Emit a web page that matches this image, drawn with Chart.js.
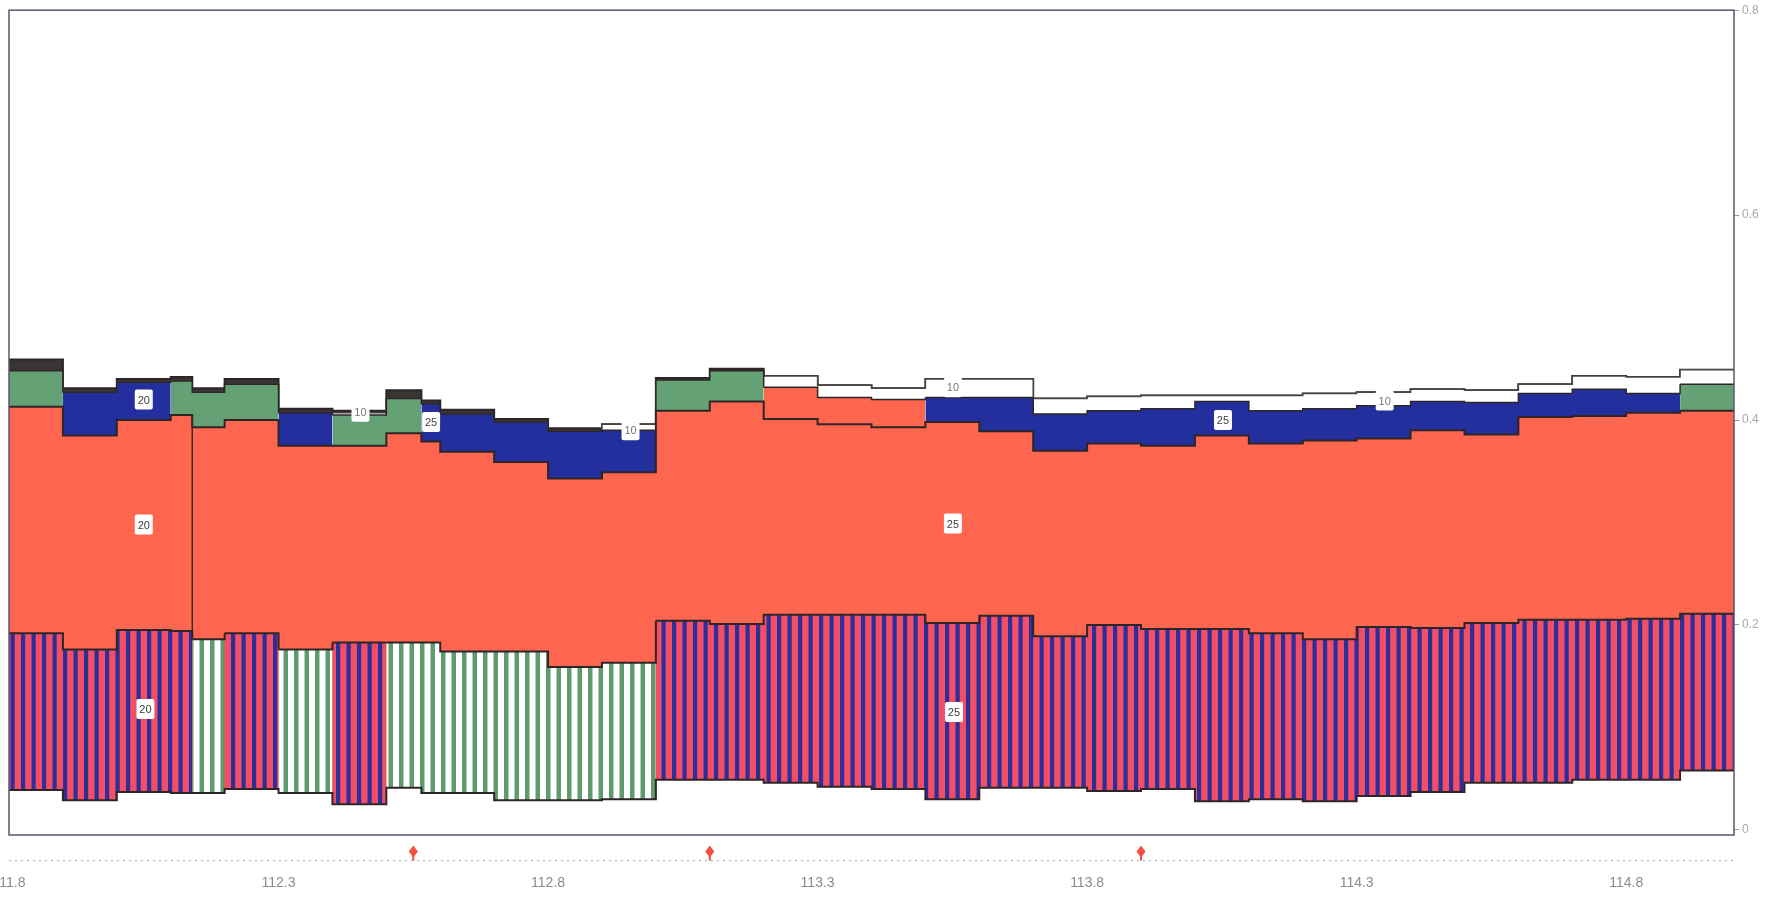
<!DOCTYPE html>
<html>
<head>
<meta charset="utf-8">
<script src="https://cdn.jsdelivr.net/npm/chart.js@4.4.0/dist/chart.umd.min.js"></script>
<style>
  html, body { margin: 0; padding: 0; background: #fff; }
</style>
</head>
<body>
<canvas id="chart" width="1766" height="897"></canvas>
<script>
'use strict';

// step edges along x (one value per boundary)
var stepEdges = [111.8, 111.9, 112.0, 112.1, 112.14, 112.2, 112.3, 112.4, 112.5, 112.565,
  112.6, 112.7, 112.8, 112.9, 113.0, 113.1, 113.2, 113.3, 113.4, 113.5, 113.6, 113.7,
  113.8, 113.9, 114.0, 114.1, 114.2, 114.3, 114.4, 114.5, 114.6, 114.7, 114.8, 114.9, 115.0];
var groupBreak = 112.14;

// layer boundaries, one value per step
var baseLevel = [0.039, 0.029, 0.037, 0.036, 0.036, 0.040, 0.036, 0.025, 0.041, 0.036, 0.036, 0.029, 0.029, 0.030,
  0.049, 0.049, 0.046, 0.042, 0.040, 0.030, 0.041, 0.041, 0.038, 0.040, 0.028, 0.030, 0.028, 0.033, 0.037, 0.046,
  0.046, 0.049, 0.049, 0.058];
var stripeTop = [0.192, 0.176, 0.195, 0.194, 0.186, 0.192, 0.176, 0.183, 0.183, 0.183, 0.174, 0.174, 0.159, 0.163,
  0.204, 0.201, 0.210, 0.210, 0.210, 0.202, 0.209, 0.189, 0.200, 0.196, 0.196, 0.192, 0.186, 0.198, 0.197, 0.202,
  0.205, 0.205, 0.206, 0.211];
var stripeKind = ['RB', 'RB', 'RB', 'RB', 'GW', 'RB', 'GW', 'RB', 'GW', 'GW', 'GW', 'GW', 'GW', 'GW',
  'RB', 'RB', 'RB', 'RB', 'RB', 'RB', 'RB', 'RB', 'RB', 'RB', 'RB', 'RB', 'RB', 'RB', 'RB', 'RB',
  'RB', 'RB', 'RB', 'RB'];
var redTop = [0.413, 0.385, 0.400, 0.405, 0.393, 0.400, 0.375, 0.375, 0.387, 0.379, 0.369, 0.359, 0.343, 0.349,
  0.409, 0.418, 0.401, 0.396, 0.393, 0.398, 0.389, 0.370, 0.377, 0.375, 0.385, 0.377, 0.380, 0.382, 0.390, 0.386,
  0.403, 0.404, 0.407, 0.409];
var midTop = [0.448, 0.427, 0.437, 0.438, 0.427, 0.435, 0.407, 0.405, 0.421, 0.416, 0.406, 0.398, 0.389, 0.390,
  0.439, 0.448, 0.432, 0.422, 0.420, 0.422, 0.422, 0.406, 0.409, 0.411, 0.418, 0.409, 0.411, 0.414, 0.418, 0.417,
  0.426, 0.430, 0.426, 0.435];
var midKind = ['G', 'B', 'B', 'G', 'G', 'G', 'B', 'G', 'G', 'B', 'B', 'B', 'B', 'B',
  'G', 'G', 'R', 'R', 'R', 'B', 'B', 'B', 'B', 'B', 'B', 'B', 'B', 'B', 'B', 'B',
  'B', 'B', 'B', 'G'];
var whiteTop = [0.448, 0.427, 0.437, 0.438, 0.427, 0.435, 0.407, 0.407, 0.421, 0.416, 0.406, 0.398, 0.389, 0.396,
  0.439, 0.448, 0.443, 0.434, 0.431, 0.440, 0.440, 0.421, 0.423, 0.424, 0.424, 0.424, 0.426, 0.427, 0.430, 0.429,
  0.435, 0.443, 0.442, 0.449];
var darkTop = [0.459, 0.431, 0.440, 0.442, 0.431, 0.440, 0.411, 0.409, 0.429, 0.419, 0.410, 0.401, 0.392, 0.396,
  0.441, 0.450, 0.443, 0.434, 0.431, 0.440, 0.440, 0.421, 0.423, 0.424, 0.424, 0.424, 0.426, 0.427, 0.430, 0.429,
  0.435, 0.443, 0.442, 0.449];

// contour labels
var labelText = ['20', '20', '20', '10', '25', '10', '10', '25', '25', '25', '10'];
var labelX = [112.05, 112.05, 112.053, 112.452, 112.583, 112.953, 113.551, 113.551, 113.553, 114.052, 114.352];
var labelY = [0.420, 0.298, 0.118, 0.408, 0.398, 0.390, 0.432, 0.299, 0.115, 0.400, 0.419];

// event markers under the plot
var markerX = [112.55, 113.1, 113.9];
var markerLevel = -0.021;
var trackLevel = -0.030;

var xTicks = [111.8, 112.3, 112.8, 113.3, 113.8, 114.3, 114.8];
var yTicks = [0, 0.2, 0.4, 0.6, 0.8];

// vertical stripe fills
function stripes(bg, fg, w) {
  var cv = document.createElement('canvas');
  cv.width = 21;
  cv.height = 4;
  var c = cv.getContext('2d');
  c.fillStyle = bg;
  c.fillRect(0, 0, 21, 4);
  c.fillStyle = fg;
  c.fillRect(0, 0, w, 4);
  c.fillRect(10.5, 0, w, 4);
  return c.createPattern(cv, 'repeat');
}
var ctx0 = document.getElementById('chart').getContext('2d');
var stripeFill = {
  RB: stripes('#f24f66', '#2d2f98', 4.2),
  GW: stripes('#ffffff', '#5e9c6e', 4.5)
};
var midFill = { B: '#232f9c', G: '#64a276', R: '#ff6650' };

function stepPoints(values) {
  var pts = values.map(function(v, i) { return { x: stepEdges[i], y: v }; });
  pts.push({ x: stepEdges[stepEdges.length - 1], y: values[values.length - 1] });
  return pts;
}

// every layer fills down to zero; lower layers are drawn later and cover the rest
function layer(label, values, color, border, width) {
  return {
    label: label,
    data: stepPoints(values),
    stepped: 'before',
    fill: 'origin',
    backgroundColor: color,
    borderColor: border,
    borderWidth: width,
    pointRadius: 0
  };
}

var dsBase = layer('base', baseLevel, '#ffffff', '#2e2626', 2);
var dsStripe = layer('striped', stripeTop, stripeFill.RB, '#2e2626', 2);
dsStripe.segment = { backgroundColor: function(c) { return stripeFill[stripeKind[c.p0DataIndex]]; } };
var dsRed = layer('red', redTop, '#ff6650', '#2e2626', 2);
var dsMid = layer('mid', midTop, midFill.B, '#2e2626', 1.5);
dsMid.segment = { backgroundColor: function(c) { return midFill[midKind[c.p0DataIndex]]; } };
var dsWhite = layer('white', whiteTop, '#ffffff', '#4a4444', 1.5);
var dsDark = layer('dark', darkTop, '#3a3434', '#2e2626', 2);

var overlay = {
  id: 'overlay',
  afterDatasetsDraw: function(chart) {
    var ctx = chart.ctx, xs = chart.scales.x, ys = chart.scales.y, a = chart.chartArea;
    ctx.save();
    // break between the two runs
    var gi = stepEdges.indexOf(groupBreak);
    var gx = xs.getPixelForValue(groupBreak);
    ctx.strokeStyle = '#3a2a2a';
    ctx.lineWidth = 1.5;
    ctx.beginPath();
    ctx.moveTo(gx, ys.getPixelForValue(redTop[gi - 1]));
    ctx.lineTo(gx, ys.getPixelForValue(stripeTop[gi - 1]));
    ctx.stroke();
    // frame
    ctx.strokeStyle = '#5b5570';
    ctx.lineWidth = 1.5;
    ctx.strokeRect(a.left, a.top, a.right - a.left, a.bottom - a.top);
    // markers under the frame
    var my = ys.getPixelForValue(markerLevel);
    var ty = ys.getPixelForValue(trackLevel);
    ctx.fillStyle = '#f0503c';
    ctx.strokeStyle = '#f0503c';
    ctx.lineWidth = 2;
    markerX.forEach(function(v) {
      var px = xs.getPixelForValue(v);
      ctx.beginPath();
      ctx.moveTo(px, my);
      ctx.lineTo(px, ty);
      ctx.stroke();
      ctx.beginPath();
      ctx.moveTo(px, my - 6);
      ctx.lineTo(px + 4.5, my);
      ctx.lineTo(px, my + 6);
      ctx.lineTo(px - 4.5, my);
      ctx.closePath();
      ctx.fill();
    });
    // labels
    ctx.font = '11px "Liberation Sans"';
    ctx.textAlign = 'center';
    ctx.textBaseline = 'middle';
    labelText.forEach(function(t, i) {
      var px = xs.getPixelForValue(labelX[i]);
      var py = ys.getPixelForValue(labelY[i]);
      ctx.fillStyle = '#ffffff';
      ctx.beginPath();
      ctx.roundRect(px - 9, py - 10, 18, 20, 2);
      ctx.fill();
      ctx.fillStyle = t === '10' ? '#777777' : '#3c3c3c';
      ctx.fillText(t, px, py + 1);
    });
    ctx.restore();
  }
};

new Chart(ctx0, {
  type: 'line',
  data: {
    datasets: [
      dsBase, dsStripe, dsRed, dsMid, dsWhite, dsDark,
      {
        label: 'track',
        data: [{ x: stepEdges[0], y: trackLevel }, { x: stepEdges[stepEdges.length - 1], y: trackLevel }],
        borderColor: '#a89cc0',
        borderWidth: 1,
        borderDash: [2, 4],
        pointRadius: 0,
        fill: false,
        clip: false
      }
    ]
  },
  options: {
    responsive: false,
    animation: false,
    layout: { padding: { left: 9, top: 9, right: 0, bottom: 0 } },
    scales: {
      x: {
        type: 'linear',
        min: 111.8,
        max: 115.0,
        grid: { display: false, drawTicks: false },
        border: { display: false },
        afterBuildTicks: function(s) { s.ticks = xTicks.map(function(v) { return { value: v }; }); },
        afterFit: function(s) { s.height = 62; s.paddingLeft = 0; s.paddingRight = 0; },
        ticks: {
          padding: 40,
          maxRotation: 0,
          color: '#8c8c8c',
          font: { family: 'Liberation Sans', size: 14 },
          callback: function(v) { return v.toFixed(1); }
        }
      },
      y: {
        position: 'right',
        min: -0.005,
        max: 0.8,
        grid: { drawOnChartArea: false, tickLength: 5, color: '#9a9a9a' },
        border: { display: false },
        afterBuildTicks: function(s) { s.ticks = yTicks.map(function(v) { return { value: v }; }); },
        afterFit: function(s) { s.width = 32; },
        ticks: {
          padding: 3,
          color: '#a8a8a8',
          font: { family: 'Liberation Sans', size: 12 },
          callback: function(v) { return v === 0 ? '0' : v.toFixed(1); }
        }
      }
    },
    plugins: {
      legend: { display: false },
      tooltip: { enabled: false }
    }
  },
  plugins: [overlay]
});
</script>
</body>
</html>
